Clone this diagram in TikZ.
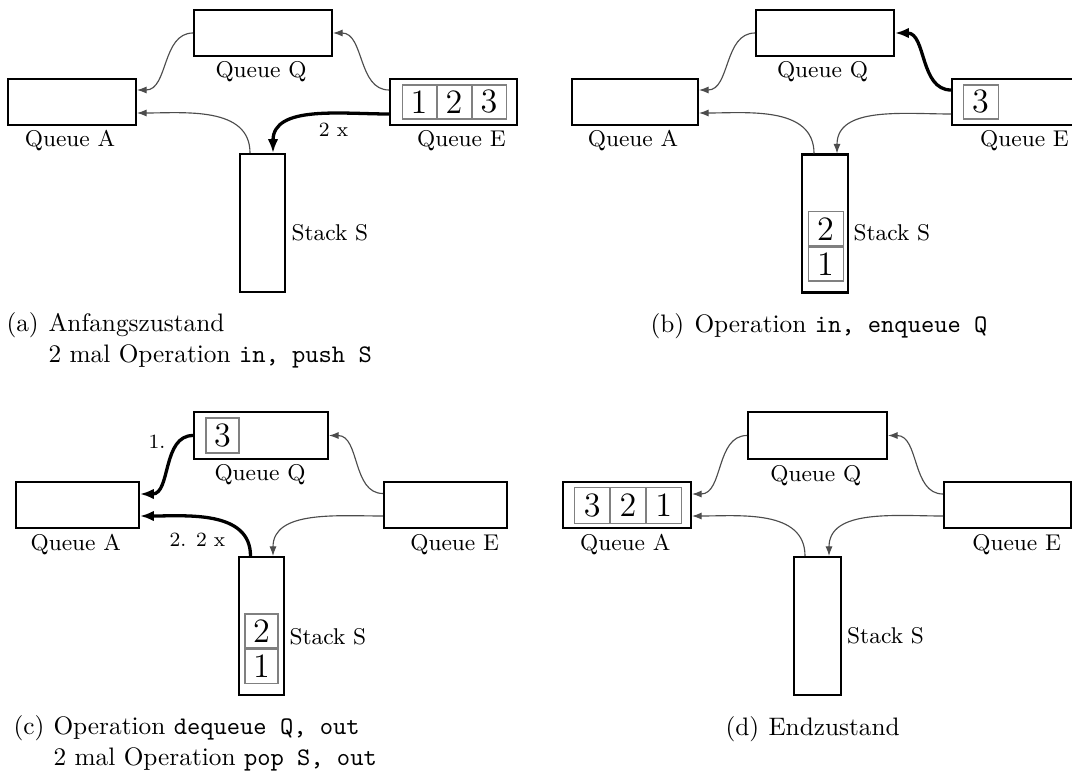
\documentclass[tikz,border=0pt]{standalone}
\usetikzlibrary{arrows.meta}
\newdimen\pxu \pxu=0.3953pt
\tikzset{
  qbox/.style={draw, line width=0.8pt, inner sep=0pt, minimum height=46\pxu},
  cell/.style={draw=black!50, line width=0.4pt, inner sep=0pt, minimum width=34\pxu, minimum height=34\pxu, font=\fontsize{13.5}{16}\selectfont},
  qlabel/.style={font=\small, inner sep=0pt, anchor=base},
  slabel/.style={font=\small, inner sep=0pt, anchor=base west},
  flow/.style={draw=black!70, line width=0.45pt, -{Latex[length=3.8pt,width=2.8pt]}},
  active/.style={draw=black, line width=1.3pt, -{Latex[length=5.5pt,width=4.2pt]}},
  elabel/.style={font=\footnotesize, inner sep=0pt},
  captag/.style={inner sep=0pt, anchor=base west},
}
\begin{document}
\begin{tikzpicture}[x=0.3953pt, y=-0.3953pt]
\clip (0,0) rectangle (1072,773);

% ---------- (a) initial state ----------
\node[qbox, minimum width=138\pxu] (aQ) at (263,33) {};
\node[qbox, minimum width=128\pxu] (aA) at (72,102) {};
\node[qbox, minimum width=127\pxu] (aE) at (453.5,102) {};
\node[qbox, minimum width=45\pxu, minimum height=138\pxu] (aS) at (262.5,223) {};
\node[cell] (aE1) at (419,102) {1};
\node[cell, anchor=west] (aE2) at (aE1.east) {2};
\node[cell, anchor=west] (aE3) at (aE2.east) {3};
\node[qlabel] (aQl) at (261,78) {Queue Q};
\node[qlabel] (aAl) at (70,146.5) {Queue A};
\node[qlabel] (aEl) at (461.5,146.5) {Queue E};
\node[slabel] (aSl) at (291,240) {Stack S};
\draw[flow] (aQ.west) to[out=180,in=0] ([yshift=12\pxu]aA.east);
\draw[flow] ([yshift=12\pxu]aE.west) to[out=180,in=0] (aQ.east);
\draw[flow] ([xshift=-12.5\pxu]aS.north) to[out=90,in=0] ([yshift=-11\pxu]aA.east);
\draw[active] ([yshift=-12\pxu]aE.west) to[out=180,in=90] ([xshift=10.5\pxu]aS.north);
\node[elabel] (aL) at (333.5,130) {2 x};

% ---------- (b) in, enqueue Q ----------
\node[qbox, minimum width=138\pxu] (bQ) at (825,33) {};
\node[qbox, minimum width=126\pxu] (bA) at (635,102) {};
\node[qbox, minimum width=127\pxu] (bE) at (1015.5,102) {};
\node[qbox, minimum width=46\pxu, minimum height=138\pxu] (bS) at (825,223.5) {};
\node[cell, minimum width=35\pxu] (bE1) at (980.5,102) {3};
\node[cell, minimum width=35\pxu] (bS1) at (825.5,264) {1};
\node[cell, minimum width=35\pxu, anchor=south] (bS2) at (bS1.north) {2};
\node[qlabel] (bQl) at (822.5,78) {Queue Q};
\node[qlabel] (bAl) at (633,146.5) {Queue A};
\node[qlabel] (bEl) at (1024.5,146.5) {Queue E};
\node[slabel] (bSl) at (853,240) {Stack S};
\draw[flow] (bQ.west) to[out=180,in=0] ([yshift=12\pxu]bA.east);
\draw[active] ([yshift=12\pxu]bE.west) to[out=180,in=0] (bQ.east);
\draw[flow] ([xshift=-11\pxu]bS.north) to[out=90,in=0] ([yshift=-11\pxu]bA.east);
\draw[flow] ([yshift=-12\pxu]bE.west) to[out=180,in=90] ([xshift=12\pxu]bS.north);

% ---------- (c) dequeue Q, pop S ----------
\node[qbox, minimum width=134\pxu, minimum height=47\pxu] (cQ) at (261,435.5) {};
\node[qbox, minimum width=123\pxu] (cA) at (77.5,505) {};
\node[qbox, minimum width=123\pxu] (cE) at (445.5,505) {};
\node[qbox, minimum width=45\pxu, minimum height=138\pxu] (cS) at (261.5,626) {};
\node[cell, minimum width=33\pxu, minimum height=35\pxu] (cQ1) at (222.5,435.5) {3};
\node[cell, minimum width=33\pxu] (cS1) at (261.5,666) {1};
\node[cell, minimum width=33\pxu, anchor=south] (cS2) at (cS1.north) {2};
\node[qlabel] (cQl) at (260,480.7) {Queue Q};
\node[qlabel] (cAl) at (75.8,550.7) {Queue A};
\node[qlabel] (cEl) at (454.7,550.7) {Queue E};
\node[slabel] (cSl) at (289,644) {Stack S};
\draw[active] (cQ.west) to[out=180,in=0] ([yshift=11\pxu]cA.east);
\node[elabel] (cL1) at (157,441.5) {1.};
\draw[flow] ([yshift=11.5\pxu]cE.west) to[out=180,in=0] (cQ.east);
\draw[active] ([xshift=-11\pxu]cS.north) to[out=90,in=0] ([yshift=-11\pxu]cA.east);
\node[elabel] (cL2) at (197.5,539.5) {2. 2 x};
\draw[flow] ([yshift=-11\pxu]cE.west) to[out=180,in=90] ([xshift=11.5\pxu]cS.north);

% ---------- (d) final state ----------
\node[qbox, minimum width=139\pxu, minimum height=47\pxu] (dQ) at (817.5,435.5) {};
\node[qbox, minimum width=128\pxu] (dA) at (627,505) {};
\node[qbox, minimum width=127\pxu] (dE) at (1007.5,505) {};
\node[qbox, minimum width=47\pxu, minimum height=138\pxu] (dS) at (817.5,626) {};
\node[cell, minimum width=34.7\pxu, minimum height=36\pxu] (dA1) at (592.3,505) {3};
\node[cell, minimum width=34.7\pxu, minimum height=36\pxu, anchor=west] (dA2) at (dA1.east) {2};
\node[cell, minimum width=34.7\pxu, minimum height=36\pxu, anchor=west] (dA3) at (dA2.east) {1};
\node[qlabel] (dQl) at (815.8,481) {Queue Q};
\node[qlabel] (dAl) at (625.3,550.7) {Queue A};
\node[qlabel] (dEl) at (1016.7,550.7) {Queue E};
\node[slabel] (dSl) at (846.7,643.3) {Stack S};
\draw[flow] (dQ.west) to[out=180,in=0] ([yshift=11\pxu]dA.east);
\draw[flow] ([yshift=11\pxu]dE.west) to[out=180,in=0] (dQ.east);
\draw[flow] ([xshift=-12.5\pxu]dS.north) to[out=90,in=0] ([yshift=-11\pxu]dA.east);
\draw[flow] ([yshift=-11\pxu]dE.west) to[out=180,in=90] ([xshift=11.5\pxu]dS.north);

% ---------- captions ----------
\node[captag] (capa) at (6,331.5) {(a)};
\node[captag] (capa1) at (48,331.5) {Anfangszustand};
\node[captag] (capa2) at (48,362.5) {2 mal Operation \texttt{in, push S}};
\node[captag] (capb) at (650,332) {(b)};
\node[captag] (capb1) at (694,332) {Operation \texttt{in, enqueue Q}};
\node[captag] (capc) at (13,734) {(c)};
\node[captag] (capc1) at (53,734) {Operation \texttt{dequeue Q, out}};
\node[captag] (capc2) at (53,765) {2 mal Operation \texttt{pop S, out}};
\node[captag] (capd) at (725,735) {(d)};
\node[captag] (capd1) at (768,735) {Endzustand};
\end{tikzpicture}
\end{document}
